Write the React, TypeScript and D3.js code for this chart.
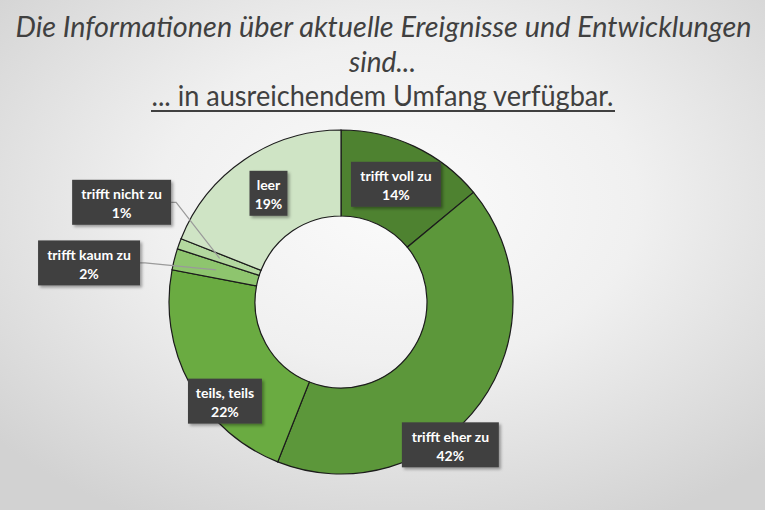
import React from "react";
import * as d3 from "d3";

const categories = ["trifft voll zu", "trifft eher zu", "teils, teils", "trifft kaum zu", "trifft nicht zu", "leer"];
const values = [14, 42, 22, 2, 1, 19];
const percentLabels = ["14%", "42%", "22%", "2%", "1%", "19%"];
const colors = ["#4e8230", "#5c973a", "#6aab41", "#8ec56e", "#b3d89f", "#cfe4c5"];
// label box layout relative to slice centroid: [dx, dy, boxWidth]
const labelLayout = [
  [0, -1, 90],
  [5, 67, 97],
  [-3, 37, 74],
  [-127, -7, 102],
  [-98, -56, 99],
  [0, -2, 38],
];
const leaderLines = [false, false, false, true, true, false];

const titleLines = [
  "Die Informationen über aktuelle Ereignisse und Entwicklungen",
  "sind...",
  "... in ausreichendem Umfang verfügbar.",
];

const W = 765;
const H = 510;
const cx = 341;
const cy = 302;
const rOuter = 172;
const rInner = 86;

export default function App() {
  const pie = d3.pie<number>().sort(null).value((d) => d);
  const arcs = pie(values);
  const arc = d3.arc<d3.PieArcDatum<number>>().innerRadius(rInner).outerRadius(rOuter);
  const font = "Lato, 'Open Sans', sans-serif";

  return (
    <svg width={W} height={H} style={{ position: "absolute", left: 0, top: 0 }} xmlns="http://www.w3.org/2000/svg">
      <defs>
        <radialGradient id="bg" cx="52%" cy="40%" r="70%">
          <stop offset="0%" stopColor="#fbfbfb" />
          <stop offset="45%" stopColor="#f0f0f0" />
          <stop offset="100%" stopColor="#d2d2d2" />
        </radialGradient>
        <filter id="shadow" x="-20%" y="-20%" width="150%" height="160%">
          <feDropShadow dx="2" dy="2" stdDeviation="1.8" floodColor="#000" floodOpacity="0.35" />
        </filter>
      </defs>
      <rect x={0} y={0} width={W} height={H} fill="url(#bg)" />

      <g fontFamily={font} fill="#404040" textAnchor="middle">
        <text x={W / 2 + 1} y={37} fontSize={28} fontStyle="italic" textLength={736} lengthAdjust="spacingAndGlyphs">
          {titleLines[0]}
        </text>
        <text x={W / 2} y={72} fontSize={28} fontStyle="italic">
          {titleLines[1]}
        </text>
        <text x={W / 2} y={106} fontSize={28} textLength={462} lengthAdjust="spacingAndGlyphs">
          {titleLines[2]}
        </text>
        <rect x={151} y={110} width={464} height={2} fill="#404040" />
      </g>

      <g transform={`translate(${cx},${cy})`}>
        {arcs.map((a, i) => (
          <path key={categories[i]} d={arc(a) || ""} fill={colors[i]} stroke="#1c1c1c" strokeWidth={1.2} />
        ))}
      </g>

      {arcs.map((a, i) => {
        const [mx, my] = arc.centroid(a);
        const px = cx + mx;
        const py = cy + my;
        const bx = px + labelLayout[i][0];
        const by = py + labelLayout[i][1];
        const wBox = labelLayout[i][2];
        const hBox = 45;
        const left = bx - wBox / 2;
        const right = bx + wBox / 2;
        return (
          <g key={"lab" + i}>
            {leaderLines[i] && (
              <polyline
                points={`${right},${by} ${right + 5},${by} ${px},${py}`}
                fill="none"
                stroke="#9a9a9a"
                strokeWidth={1.2}
              />
            )}
            <rect x={left} y={by - hBox / 2} width={wBox} height={hBox} fill="#414141" filter="url(#shadow)" />
            <text x={bx} y={by - 3} textAnchor="middle" fontFamily={font} fontWeight="bold" fontSize={14} fill="#ffffff">
              {categories[i]}
            </text>
            <text x={bx} y={by + 16} textAnchor="middle" fontFamily={font} fontWeight="bold" fontSize={14} fill="#ffffff">
              {percentLabels[i]}
            </text>
          </g>
        );
      })}
    </svg>
  );
}
